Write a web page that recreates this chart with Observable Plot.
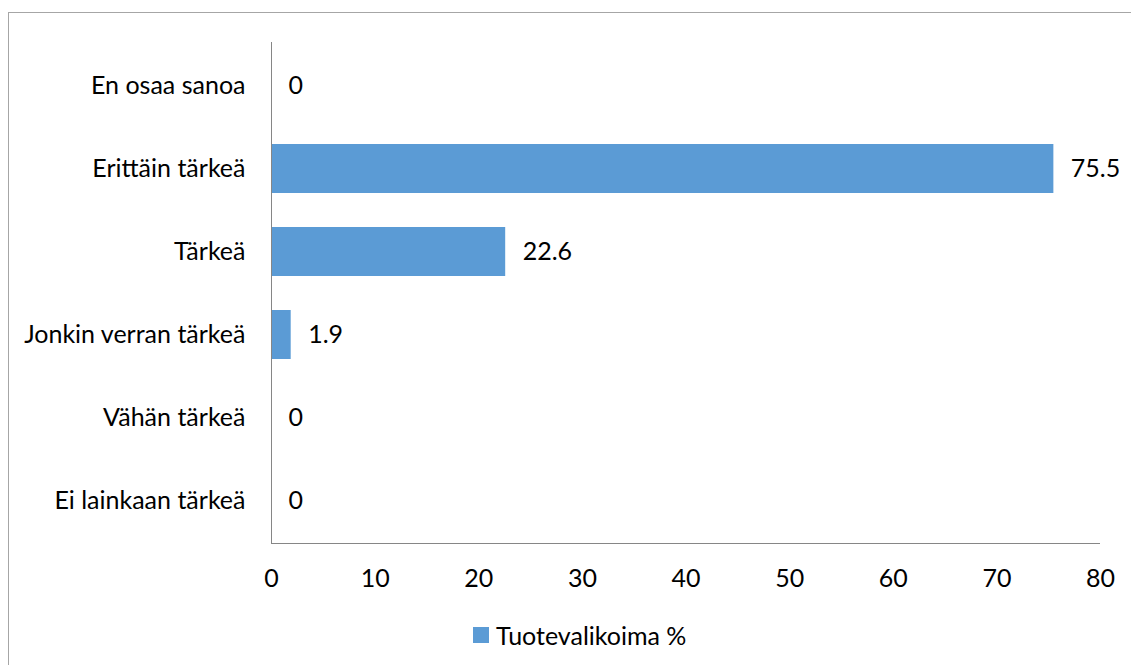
<!DOCTYPE html>
<html>
<head>
<meta charset="utf-8">
<script src="https://cdn.jsdelivr.net/npm/d3@7"></script>
<script src="https://cdn.jsdelivr.net/npm/@observablehq/plot@0.6"></script>
<style>
  html, body { margin: 0; padding: 0; background: #fff; }
  body { width: 1131px; height: 665px; position: relative; overflow: hidden; font-family: Lato, "Open Sans", sans-serif; }
  #frame { position: absolute; left: 8px; top: 12px; width: 1200px; height: 700px; border: 1px solid #a6a6a6; box-sizing: border-box; }
  #chart { position: absolute; left: 0; top: 0; }
  #legend { position: absolute; left: 473px; top: 620px; height: 30px; display: flex; align-items: center; font-size: 25px; line-height: 30px; color: #000; }
  #legend .sw { width: 16px; height: 16px; background: #5b9bd5; margin-right: 7px; }
</style>
</head>
<body>
<div id="frame"></div>
<div id="chart"></div>
<div id="legend"><span class="sw"></span><span id="legend-label"></span></div>
<script>
// Categories, top to bottom
const categories = [
  "En osaa sanoa",
  "Erittäin tärkeä",
  "Tärkeä",
  "Jonkin verran tärkeä",
  "Vähän tärkeä",
  "Ei lainkaan tärkeä"
];
// Share of respondents (%)
const values = [0, 75.5, 22.6, 1.9, 0, 0];
const xTicks = [0, 10, 20, 30, 40, 50, 60, 70, 80];
const seriesName = "Tuotevalikoima %";

const rows = categories.map((c, i) => ({category: c, value: values[i]}));
const barColor = "#5b9bd5";
const axisColor = "#868686";

const chart = Plot.plot({
  width: 1131,
  height: 600,
  marginTop: 42,
  marginBottom: 57,
  marginLeft: 271,
  marginRight: 31,
  style: {fontFamily: "Lato, 'Open Sans', sans-serif", fontSize: "25px", color: "#000", background: "transparent", overflow: "visible"},
  x: {domain: [0, 80], ticks: xTicks, label: null},
  y: {domain: categories, paddingInner: 0.41, paddingOuter: 0.205, label: null},
  marks: [
    Plot.barX(rows, {x: "value", y: "category", fill: barColor}),
    Plot.text(rows, {x: "value", y: "category", text: d => String(d.value), textAnchor: "start", dx: 17, fill: "#000", fontSize: 25}),
    Plot.axisX({ticks: xTicks, tickSize: 0, tickPadding: 26, label: null, tickFormat: d => String(d), fontSize: 25}),
    Plot.axisY({tickSize: 0, tickPadding: 26, label: null, fontSize: 25}),
    Plot.ruleX([0], {stroke: axisColor, strokeWidth: 1})
  ]
});

// Baseline along the bottom of the plot area, built from the plot's own scales
const xs = chart.scale("x").range;
const ys = chart.scale("y").range;
d3.select(chart).append("line")
  .attr("x1", xs[0]).attr("x2", xs[1])
  .attr("y1", Math.max(...ys) + 0.5).attr("y2", Math.max(...ys) + 0.5)
  .attr("stroke", axisColor).attr("stroke-width", 1);

document.getElementById("chart").append(chart);
document.getElementById("legend-label").textContent = seriesName;
</script>
</body>
</html>
